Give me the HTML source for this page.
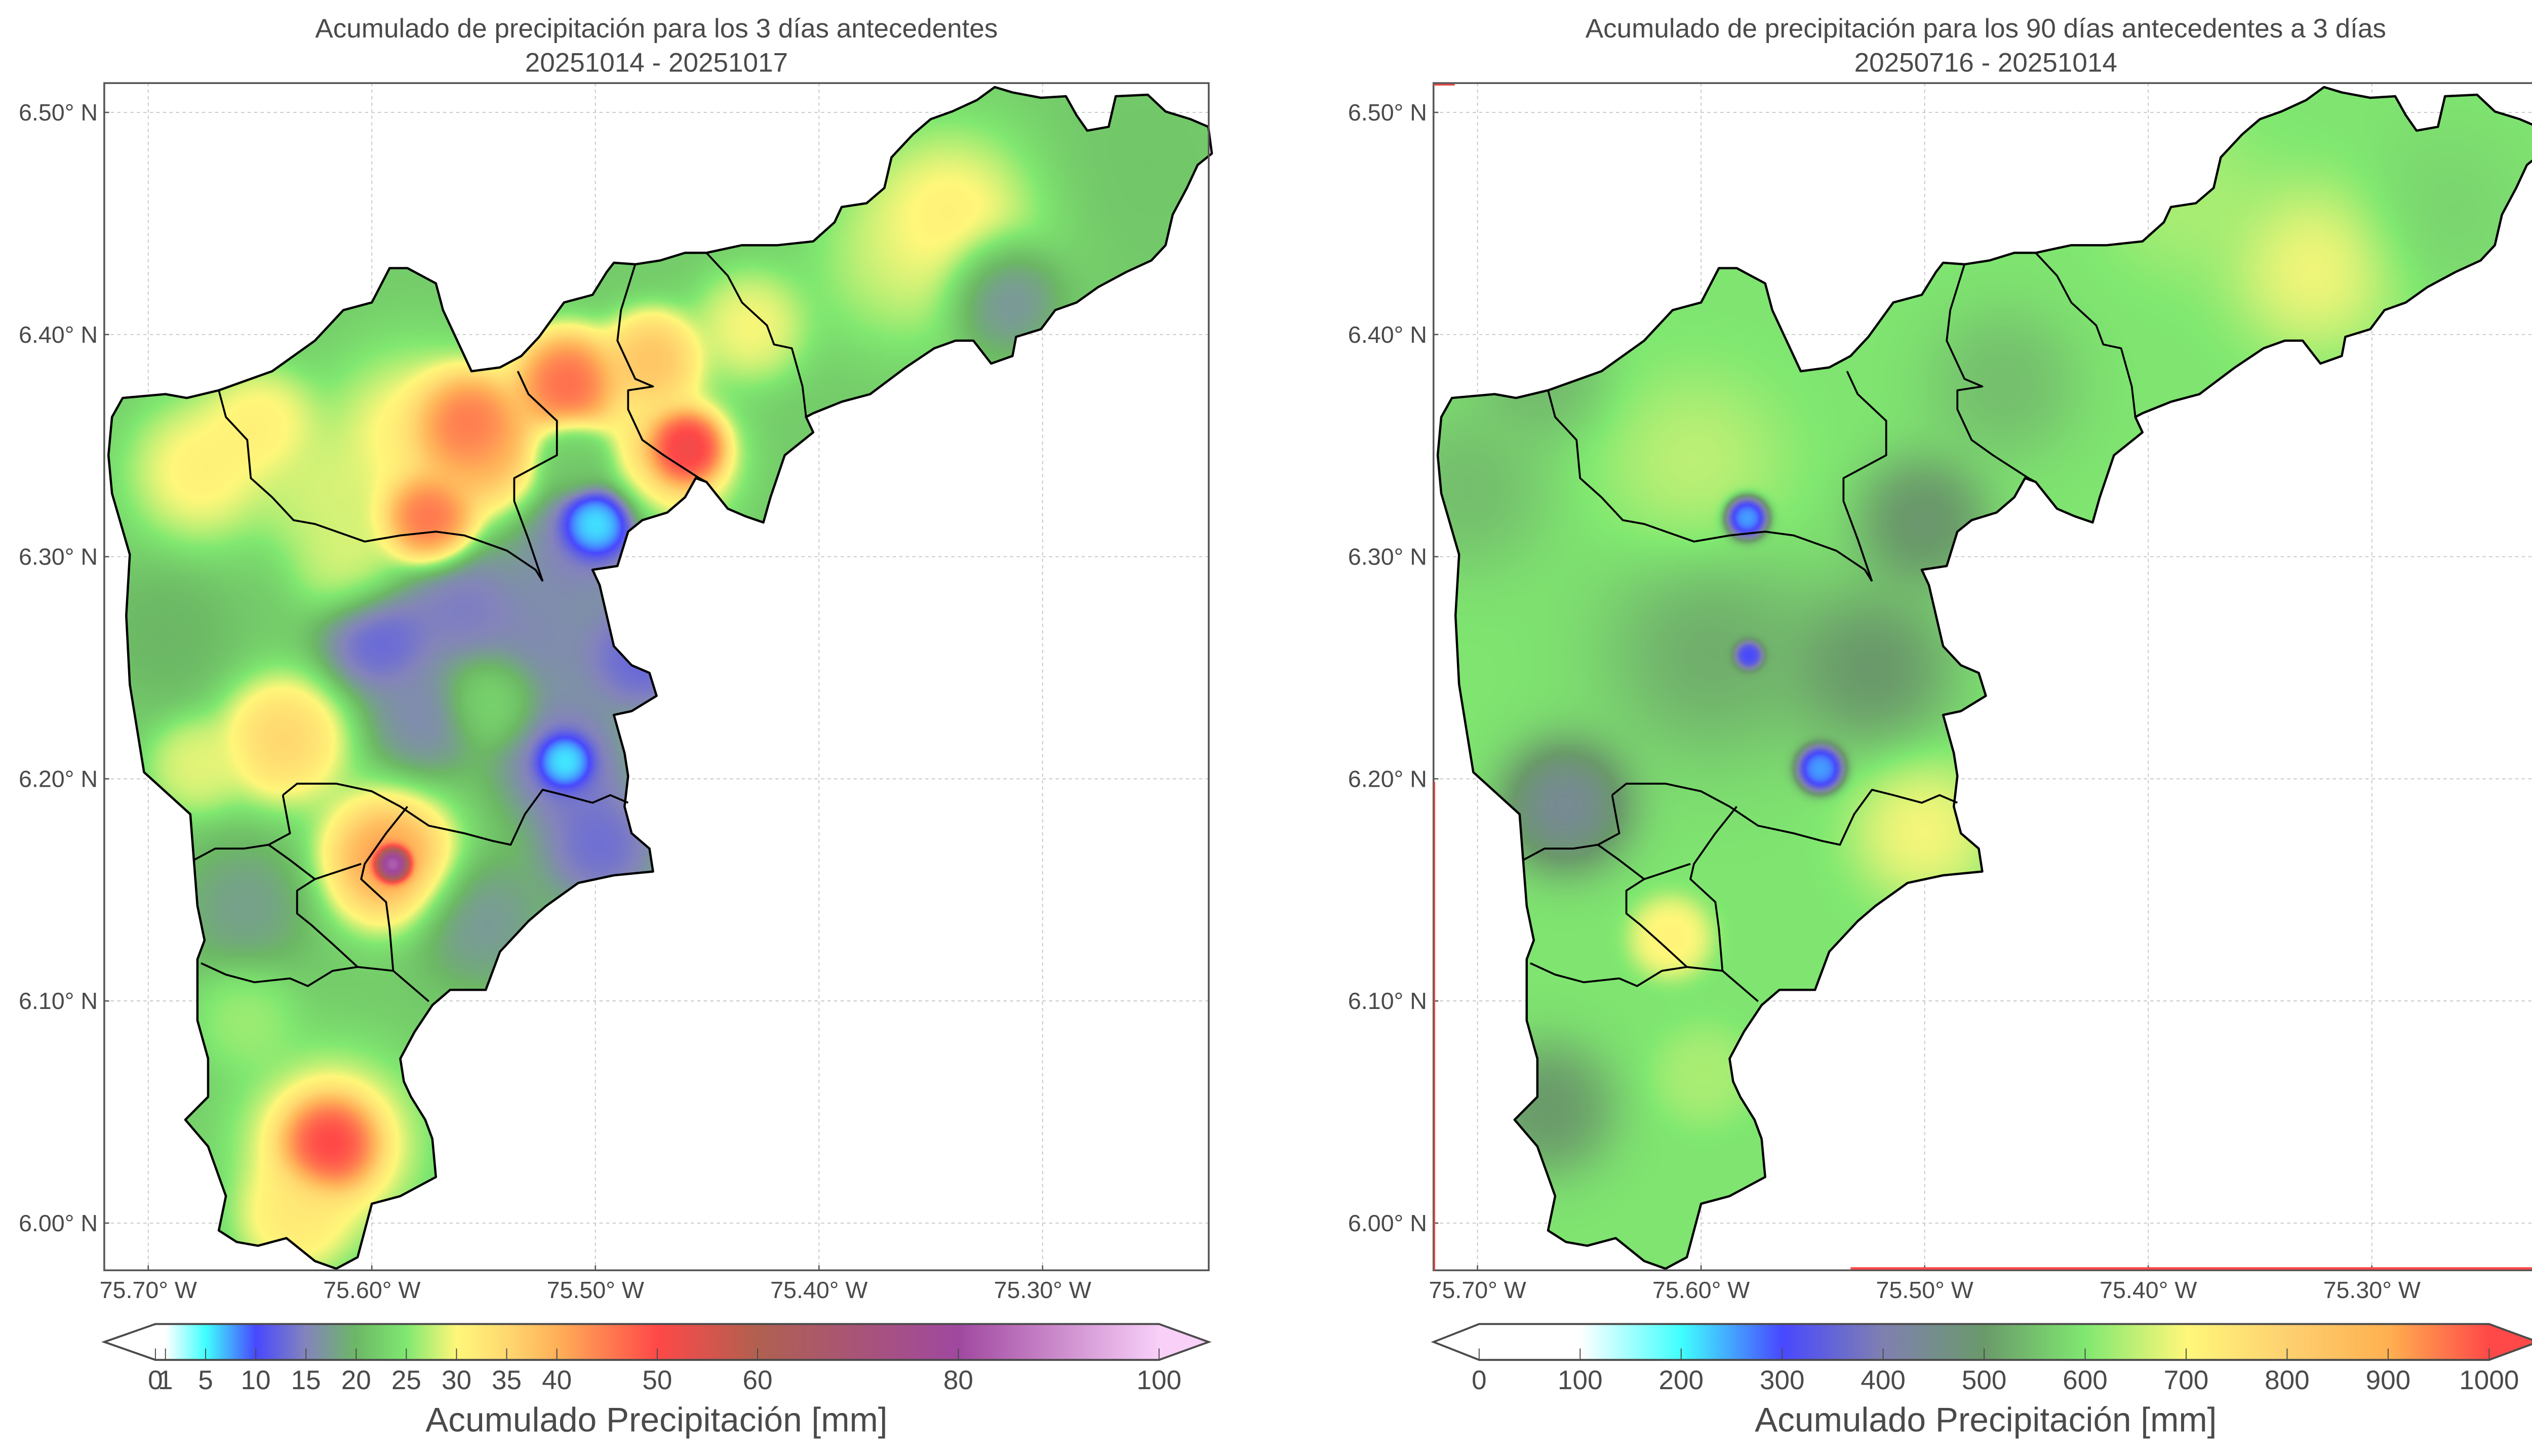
<!DOCTYPE html>
<html><head><meta charset="utf-8">
<style>
html,body{margin:0;padding:0;background:#fff;}
#wrap{position:relative;width:5044px;height:2876px;}
#wrap svg,#wrap canvas{position:absolute;left:0;top:0;display:block;}
text{font-family:"Liberation Sans",sans-serif;fill:#4a4a4a;}
</style></head>
<body>
<div id="wrap">
<svg id="back" xmlns="http://www.w3.org/2000/svg" width="5044" height="2876" viewBox="0 0 1568 894"></svg>
<canvas id="cv" width="5044" height="2876"></canvas>
<svg id="fig" xmlns="http://www.w3.org/2000/svg" width="5044" height="2876" viewBox="0 0 1568 894">
<defs></defs>
<g id="root"></g>
</svg>
</div>
<script>
// ---- data ----
const lonTicks=[-75.70,-75.60,-75.50,-75.40,-75.30];
const latTicks=[6.50,6.40,6.30,6.20,6.10,6.00];
const leftCbTicks=[0,1,5,10,15,20,25,30,35,40,50,60,80,100];
const rightCbTicks=[0,100,200,300,400,500,600,700,800,900,1000];
const leftStops=[[0,'#ffffff'],[1,'#ffffff'],[5,'#40ffff'],[10,'#4848ff'],[15,'#8484bc'],[20,'#6cb865'],[25,'#80e870'],[30,'#fff77a'],[35,'#ffd870'],[40,'#ffb058'],[50,'#ff4848'],[60,'#b06050'],[80,'#a048a0'],[100,'#f8d0f8']];
const rightStops=[[0,'#ffffff'],[100,'#ffffff'],[200,'#40ffff'],[300,'#4848ff'],[400,'#8080b0'],[500,'#6a9a6a'],[600,'#80e870'],[700,'#fff77a'],[800,'#fdd070'],[900,'#ffb050'],[1000,'#ff4848']];
// 3-day accumulation samples
const leftBase=22;
const leftLon=[-75.342,-75.369,-75.318,-75.256,-75.677,-75.581,-75.557,-75.513,-75.468,-75.460,-75.575,-75.624,-75.504,-75.500,-75.597,-75.526,-75.562,-75.693,-75.640,-75.514,-75.514,-75.498,-75.593,-75.591,-75.657,-75.619,-75.619,-75.635,-75.657,-75.551,-75.548,-75.610,-75.679,-75.577,-75.479,-75.548,-75.650,-75.431,-75.475,-75.511];
const leftLat=[6.452,6.430,6.418,6.477,6.339,6.353,6.359,6.378,6.345,6.349,6.317,6.327,6.312,6.315,6.263,6.261,6.279,6.265,6.218,6.207,6.208,6.170,6.164,6.162,6.143,6.036,6.036,6.002,6.092,6.136,6.235,6.298,6.206,6.228,6.255,6.345,6.360,6.404,6.389,6.345];
const leftVal=[41,30,14,21,36,40,52,52,42,56,50,30,10,4,10,10,12,19,40,10,4,10,50,92,16,44,56,34,27,15,24,30,30,14,10,42,33,32,40,22];
const leftRad=[3.8,3.2,2.0,3.6,2.8,3.6,1.8,1.8,2.4,1.1,1.5,2.3,2.8,1.0,2.0,3.6,2.3,2.4,2.3,2.4,0.8,2.3,2.4,0.5,2.4,3.4,1.5,2.0,1.8,2.4,1.5,2.0,1.6,2.0,2.0,2.0,2.0,2.0,1.6,1.2];
// 90-day accumulation samples
const rightBase=595;
const rightLon=[-75.326,-75.385,-75.465,-75.705,-75.603,-75.596,-75.523,-75.661,-75.501,-75.614,-75.669,-75.501,-75.599,-75.672,-75.268,-75.580,-75.579,-75.547];
const rightLat=[6.430,6.463,6.378,6.331,6.342,6.257,6.250,6.188,6.177,6.129,6.052,6.316,6.067,6.382,6.455,6.318,6.256,6.205];
const rightVal=[760,660,520,510,700,420,425,380,740,720,460,450,640,520,560,220,280,230];
const rightRad=[3.2,3.2,2.8,3.2,3.6,4.5,3.2,2.3,2.6,1.2,2.4,2.4,1.6,2.4,3.2,0.6,0.4,0.65];

const outline="M1255,8 L1280,15 1320,22 1355,20 1370,45 1385,65 1415,60 1425,20 1470,18 1495,40 1530,50 1555,60 1560,95 1540,110 1525,140 1505,175 1495,215 1475,235 1440,250 1400,270 1370,290 1340,300 1320,325 1285,335 1280,360 1250,370 1225,340 1200,340 1170,350 1130,375 1080,410 1040,420 1000,435 990,440 1000,460 960,490 940,545 930,578 905,570 880,560 850,525 835,520 820,545 795,565 760,575 740,590 725,635 690,640 700,660 710,700 720,740 745,765 770,775 780,805 745,825 720,830 735,880 740,910 735,950 745,985 770,1005 775,1035 720,1040 670,1050 625,1080 600,1100 560,1140 540,1190 490,1190 465,1210 440,1245 420,1280 425,1310 435,1330 455,1360 465,1385 470,1435 420,1460 380,1470 360,1540 330,1555 300,1545 260,1515 220,1525 190,1520 165,1505 175,1460 150,1395 118,1360 150,1330 150,1280 135,1230 135,1150 145,1125 135,1080 130,1020 125,960 60,905 40,790 35,700 40,620 15,540 10,490 15,440 30,415 90,410 120,415 165,405 240,380 300,340 340,300 380,290 405,245 430,245 470,265 480,300 520,380 560,375 590,360 615,335 650,290 690,280 710,250 720,238 750,240 785,235 820,225 850,225 900,215 950,215 1000,210 1030,185 1040,165 1075,160 1100,140 1110,100 1140,70 1165,50 1195,40 1230,25 Z";
const inner=[
"M165,405 L175,440 205,470 210,520 240,545 270,575 300,580 370,603 420,595 470,590 510,595 570,615 610,640 620,655",
"M585,380 L600,410 640,445 640,490 580,520 580,550 600,600 620,655",
"M750,240 L730,300 725,340 750,390 775,400 740,405 740,430 760,470 790,490 840,520 850,525",
"M850,225 L880,255 900,290 935,320 945,345 970,350 985,400 990,440",
"M255,935 L275,920 330,920 380,930 420,950 460,975 510,985 550,995 575,1000 595,960 620,928 650,935 690,945 715,935 740,945",
"M255,935 L265,985 235,1000 200,1005 160,1005 130,1020",
"M235,1000 L265,1020 300,1045 275,1060 275,1090 295,1105 325,1130 360,1160 410,1165 460,1205",
"M430,950 L400,985 370,1025 365,1045 400,1075 405,1110 410,1165",
"M300,1045 L365,1025",
"M140,1155 L175,1170 215,1180 265,1175 290,1185 325,1165 360,1160"];

const NS="http://www.w3.org/2000/svg";
const root=document.getElementById('root');
const back=document.getElementById('back');
const defs=document.querySelector('#fig defs');
function mk(tag,attrs,parent){const e=document.createElementNS(NS,tag);for(const k in attrs)e.setAttribute(k,attrs[k]);(parent||root).appendChild(e);return e;}
function hex2rgb(h){return [parseInt(h.substr(1,2),16),parseInt(h.substr(3,2),16),parseInt(h.substr(5,2),16)];}
function cmapRGB(stops,v){
  if(v<=stops[0][0])return hex2rgb(stops[0][1]);
  for(let i=1;i<stops.length;i++){if(v<=stops[i][0]){const t=(v-stops[i-1][0])/(stops[i][0]-stops[i-1][0]);const a=hex2rgb(stops[i-1][1]),b=hex2rgb(stops[i][1]);return a.map((x,j)=>Math.round(x+(b[j]-x)*t));}}
  return hex2rgb(stops[stops.length-1][1]);
}
const AX_T=51,AX_B=780,AX_W=678;
function xOf(lon,axLeft){return axLeft+27+(lon+75.70)*1372.5;}
function yOf(lat){return 69+(6.50-lat)*1364;}
const kmPx=12.33;
const SX=5044/1568,SY=2876/894;
const cv=document.getElementById('cv');const ctx=cv.getContext('2d');

function drawField(axLeft,base,lons,lats,vals,rads,stops){
  const W=AX_W,H=AX_B-AX_T;
  const off=document.createElement('canvas');off.width=W;off.height=H;
  const octx=off.getContext('2d');const img=octx.createImageData(W,H);
  const px=lons.map(l=>xOf(l,axLeft)-axLeft), py=lats.map(l=>yOf(l)-AX_T);
  const rpx=rads.map(r=>r*kmPx*1.05);
  const rr=rpx.map(p=>1/(p*p));
  const amp=rpx.map(p=>Math.min(3.5,(22/p)*(22/p)));
  const n=lons.length;
  const w0=0.22;
  for(let y=0;y<H;y++)for(let x=0;x<W;x++){
    let ws=w0,vs=base*w0;
    for(let i=0;i<n;i++){const dx=x-px[i],dy=y-py[i];const w=amp[i]*Math.exp(-(dx*dx+dy*dy)*rr[i]);ws+=w;vs+=w*vals[i];}
    const c=cmapRGB(stops,vs/ws);const k=(y*W+x)*4;
    img.data[k]=c[0];img.data[k+1]=c[1];img.data[k+2]=c[2];img.data[k+3]=255;
  }
  octx.putImageData(img,0,0);
  ctx.save();
  ctx.setTransform(SX*0.437,0,0,SY*0.469,SX*(axLeft-1.8),SY*49.7);
  ctx.clip(new Path2D(outline));
  ctx.setTransform(SX,0,0,SY,0,0);
  ctx.imageSmoothingEnabled=true;
  ctx.drawImage(off,axLeft,AX_T,W,H);
  ctx.restore();
}

function panel(id,axLeft,title1,title2,base,lons,lats,vals,rads,stops,cbTicks,cbMax,rightArrowColor,cbX0,cbX1){
  const g=mk('g',{});
  
  
  const cx=axLeft+AX_W/2;
  const t1=mk('text',{x:cx,y:23,'text-anchor':'middle','font-size':16.5},g);t1.textContent=title1;
  
  const t2=mk('text',{x:cx,y:44,'text-anchor':'middle','font-size':16.5},g);t2.textContent=title2;
  
  const grid=mk('g',{stroke:'#c8c8c8','stroke-width':0.6,'stroke-dasharray':'2,2'},back);
  
  lonTicks.forEach(l=>{const x=xOf(l,axLeft);mk('line',{x1:x,x2:x,y1:AX_T,y2:AX_B},grid);});
  latTicks.forEach(l=>{const y=yOf(l);mk('line',{x1:axLeft,x2:axLeft+AX_W,y1:y,y2:y},grid);});
  drawField(axLeft,base,lons,lats,vals,rads,stops);
  const bnd=mk('g',{transform:'translate('+(axLeft-1.8)+',49.7) scale(0.437,0.469)',fill:'none',stroke:'#000','stroke-linejoin':'round'},g);
  
  mk('path',{d:outline,'stroke-width':4.5,'vector-effect':'non-scaling-stroke'},bnd);
  inner.forEach(d=>mk('path',{d:d,'stroke-width':3.8,'vector-effect':'non-scaling-stroke'},bnd));
  const sp=mk('rect',{x:axLeft,y:AX_T,width:AX_W,height:AX_B-AX_T,fill:'none',stroke:'#555','stroke-width':1.1},g);
  
  lonTicks.forEach(l=>{const x=xOf(l,axLeft);mk('line',{x1:x,x2:x,y1:AX_B,y2:AX_B-3,stroke:'#555','stroke-width':0.8},g);
    const t=mk('text',{x:x,y:797,'text-anchor':'middle','font-size':14.5},g);t.textContent=Math.abs(l).toFixed(2)+'° W';
    });
  latTicks.forEach(l=>{const y=yOf(l);mk('line',{x1:axLeft,x2:axLeft+3,y1:y,y2:y,stroke:'#555','stroke-width':0.8},g);
    const t=mk('text',{x:axLeft-4,y:y+5,'text-anchor':'end','font-size':14.5},g);t.textContent=l.toFixed(2)+'° N';
    });
  const cb=mk('g',{},g);
  
  const cgid=id+'cbgrad';
  const lg=mk('linearGradient',{id:cgid,x1:0,x2:1,y1:0,y2:0},defs);
  stops.forEach(s=>mk('stop',{offset:s[0]/cbMax,'stop-color':'rgb('+hex2rgb(s[1]).join(',')+')'},lg));
  const y0=813,y1=835,ym=824;
  mk('polygon',{points:axLeft+','+ym+' '+cbX0+','+y0+' '+cbX0+','+y1,fill:'#fff'},cb);
  mk('polygon',{points:(axLeft+AX_W)+','+ym+' '+cbX1+','+y0+' '+cbX1+','+y1,fill:rightArrowColor},cb);
  mk('rect',{x:cbX0,y:y0,width:cbX1-cbX0+0.3,height:y1-y0,fill:'url(#'+cgid+')'},cb);
  mk('polygon',{points:axLeft+','+ym+' '+cbX0+','+y0+' '+cbX1+','+y0+' '+(axLeft+AX_W)+','+ym+' '+cbX1+','+y1+' '+cbX0+','+y1,fill:'none',stroke:'#4a4a4a','stroke-width':1.2},cb);
  cbTicks.forEach(v=>{const x=cbX0+(cbX1-cbX0)*v/cbMax;
    mk('line',{x1:x,x2:x,y1:y1,y2:y1-7,stroke:'#4a4a4a','stroke-width':0.6},cb);
    const t=mk('text',{x:x,y:853,'text-anchor':'middle','font-size':16.5},cb);t.textContent=String(v);
    });
  const cl=mk('text',{x:cx,y:879,'text-anchor':'middle','font-size':21},cb);cl.textContent='Acumulado Precipitación [mm]';
  
  return g;
}
panel('left-map',64,'Acumulado de precipitación para los 3 días antecedentes','20251014 - 20251017',leftBase,leftLon,leftLat,leftVal,leftRad,leftStops,leftCbTicks,100,'#f8d0f8',95.4,711.5);
const rg=panel('right-map',880,'Acumulado de precipitación para los 90 días antecedentes a 3 días','20250716 - 20251014',rightBase,rightLon,rightLat,rightVal,rightRad,rightStops,rightCbTicks,1000,'#ff4848',908,1528);
mk('line',{x1:880.5,x2:880.5,y1:480,y2:780,stroke:'#e04848','stroke-width':1},rg);
mk('line',{x1:1136,x2:1558,y1:778.8,y2:778.8,stroke:'#ff4848','stroke-width':1.4},rg);
mk('line',{x1:880,x2:893,y1:52,y2:52,stroke:'#e04848','stroke-width':1},rg);
</script>
</body></html>
